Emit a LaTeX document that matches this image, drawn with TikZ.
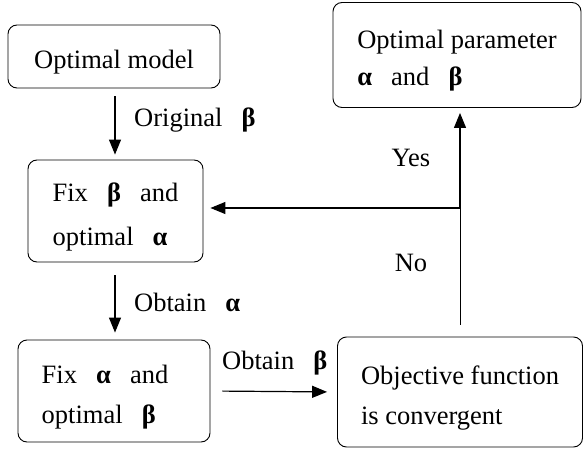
\documentclass[tikz,border=0pt]{standalone}
\usepackage{fontspec}
\setmainfont{Liberation Serif}
\usetikzlibrary{arrows.meta}
\newcommand{\gap}{\hspace{0.72em}}
\newcommand{\topstrut}{\rule{0pt}{30pt}}
\tikzset{
  stepbox/.style={draw, rounded corners=9pt, line width=0.9pt, align=left, inner sep=0pt,
    execute at begin node={\topstrut}},
  flow/.style={line width=1.2pt, -{Triangle[length=15pt,width=12pt]}},
  edgetext/.style={inner sep=0pt, anchor=west}
}

\begin{document}
\begin{tikzpicture}[x=1pt, y=-1pt, font=\fontsize{26.5}{40}\selectfont]
  \useasboundingbox (0,0) rectangle (583,449);

  % boxes
  \node[stepbox, minimum width=212pt, minimum height=63pt] (model) at (114,56.5) {Optimal model};
  \node[stepbox, minimum width=175pt, minimum height=102pt] (fixb) at (115.5,211)
    {\topstrut Fix\gap\textbf{β}\gap and\\[4pt]optimal\gap\textbf{α}};
  \node[stepbox, minimum width=192pt, minimum height=102pt] (fixa) at (114,391)
    {\topstrut Fix\gap\textbf{α}\gap and\rule{18pt}{0pt}\\optimal\gap\textbf{β}};
  \node[stepbox, minimum width=245pt, minimum height=110pt] (objf) at (460,392)
    {\topstrut Objective function\\is convergent};
  \node[stepbox, minimum width=248pt, minimum height=105pt] (param) at (457,55)
    {\topstrut Optimal parameter\\[-3pt]\textbf{α}\gap and\gap\textbf{β}};
  \coordinate (junc) at (460,208);

  % connectors
  \draw[flow, shorten <=8pt, shorten >=5pt] (model.south -| 115,0) -- (fixb.north -| 115,0);
  \draw[flow, shorten <=13pt, shorten >=7pt] (fixb.south -| 115,0) -- (fixa.north -| 115,0);
  \draw[flow, shorten <=12pt, shorten >=10pt] (fixa.east) -- (objf.west);
  \draw[line width=0.9pt, shorten <=12pt] (objf.north) -- (junc);
  \draw[flow, shorten >=5pt] (junc) -- (junc |- param.south);
  \draw[flow, shorten >=7pt] (junc) -- (junc -| fixb.east);

  % labels
  \node[edgetext] (orig) at (134,120) {Original\gap\textbf{β}};
  \node[edgetext] (obta) at (134,302) {Obtain\gap\textbf{α}};
  \node[edgetext] (obtb) at (222,363) {Obtain\gap\textbf{β}};
  \node[inner sep=0pt] (yes) at (411,158) {Yes};
  \node[inner sep=0pt] (no) at (411,263) {No};
\end{tikzpicture}
\end{document}
